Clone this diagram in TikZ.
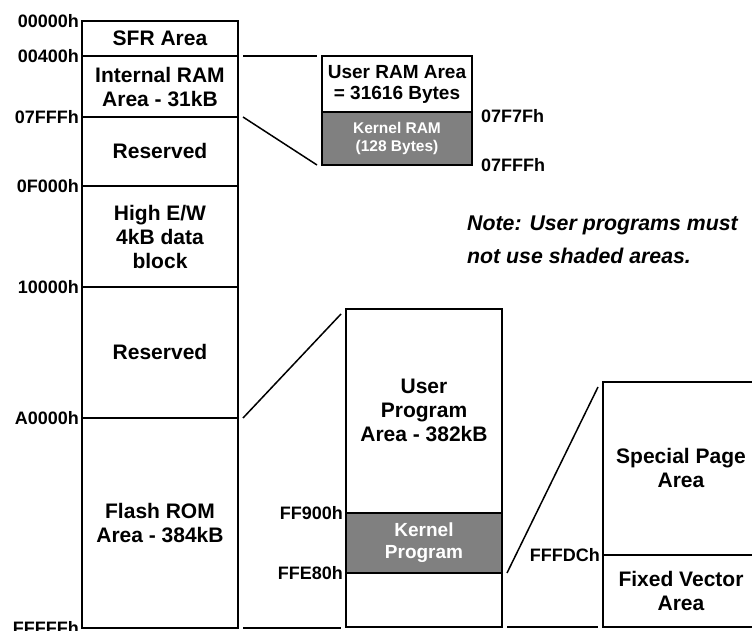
\documentclass[tikz,border=0pt]{standalone}
\usepackage{fontspec}
\setmainfont{Liberation Sans}
\usetikzlibrary{positioning}

\definecolor{shadegray}{RGB}{128,128,128}

\tikzset{
  addr/.style={font=\fontsize{18}{20}\selectfont\bfseries, inner sep=0pt},
  area/.style={font=\fontsize{21}{24}\selectfont\bfseries, align=center, inner sep=0pt},
  smallarea/.style={font=\fontsize{19}{21}\selectfont\bfseries, align=center, inner sep=0pt},
  kerneltext/.style={text=white, align=center, inner sep=0pt},
  frame/.style={line width=1.8pt},
  divider/.style={line width=1.5pt},
  link/.style={line width=1.5pt}
}

\begin{document}
\begin{tikzpicture}[x=1pt,y=-1pt]
 	\clip (0,0) rectangle (752,631);

	% main memory column
	\coordinate (mtl) at (82,21);
	\coordinate (mbr) at (238,628);
	\draw[divider] (82,56) -- (238,56);
	\draw[divider] (82,117) -- (238,117);
	\draw[divider] (82,186) -- (238,186);
	\draw[divider] (82,287) -- (238,287);
	\draw[divider] (82,418) -- (238,418);
	\draw[frame] (mtl) rectangle (mbr);

	\node[area] (sfr) at (160,38) {SFR Area};
	\node[area] (iram) at (160,87) {Internal RAM\\Area - 31kB};
	\node[area] (res1) at (160,151) {Reserved};
	\node[area] (hiew) at (160,237) {High E/W\\4kB data\\block};
	\node[area] (res2) at (160,352) {Reserved};
	\node[area] (flash) at (160,523) {Flash ROM\\Area - 384kB};

	\node[addr, anchor=east] (a00000) at (79,21) {00000h};
	\node[addr, anchor=east] (a00400) at (79,56) {00400h};
	\node[addr, anchor=east] (a07fff) at (79,117) {07FFFh};
	\node[addr, anchor=east] (a0f000) at (79,186) {0F000h};
	\node[addr, anchor=east] (a10000) at (79,287) {10000h};
	\node[addr, anchor=east] (aa0000) at (79,418) {A0000h};
	\node[addr, anchor=east] (afffff) at (79,628) {FFFFFh};

	% RAM detail
	\fill[shadegray] (322,112) rectangle (472,165);
	\draw[divider] (322,112) -- (472,112);
	\draw[frame] (322,56) rectangle (472,165);
	\node[smallarea] (uram) at (397,84) {User RAM Area\\= 31616 Bytes};
	\node[kerneltext, font=\fontsize{15.5}{18}\selectfont\bfseries] (kram) at (397,138) {Kernel RAM\\(128 Bytes)};
	\node[addr, anchor=west] (a07f7f) at (481,116) {07F7Fh};
	\node[addr, anchor=west] (a07fffb) at (481,165) {07FFFh};

	\coordinate (r1a) at (243,56);
	\coordinate (r1b) at (317,56);
	\coordinate (r2a) at (243,117);
	\coordinate (r2b) at (317,165);
	\draw[link] (r1a) -- (r1b);
	\draw[link] (r2a) -- (r2b);

	% note
	\node[font=\fontsize{21.3}{33}\selectfont\bfseries\itshape, align=left, anchor=north west, inner sep=0pt] (note) at (467,216) {Note: User programs must\\not use shaded areas.};

	% program detail
	\fill[shadegray] (346,513) rectangle (502,573);
	\draw[divider] (346,513) -- (502,513);
	\draw[divider] (346,573) -- (502,573);
	\draw[frame] (346,309) rectangle (502,627);
	\node[area] (uprog) at (424,410) {User\\Program\\Area - 382kB};
	\node[kerneltext, font=\fontsize{19}{22}\selectfont\bfseries] (kprog) at (424,543) {Kernel\\Program};
	\node[addr, anchor=east] (aff900) at (343,513) {FF900h};
	\node[addr, anchor=east] (affe80) at (343,573) {FFE80h};

	\coordinate (p1a) at (243,418);
	\coordinate (p1b) at (341,314);
	\coordinate (p2a) at (243,628);
	\coordinate (p2b) at (341,628);
	\draw[link] (p1a) -- (p1b);
	\draw[link] (p2a) -- (p2b);

	% special page detail
	\draw[divider] (603,555) -- (759,555);
	\draw[frame] (603,382) rectangle (759,627);
	\node[area] (spage) at (681,468) {Special Page\\Area};
	\node[area] (fvec) at (681,591) {Fixed Vector\\Area};
	\node[addr, anchor=east] (afffdc) at (600,555) {FFFDCh};

	\coordinate (s1a) at (507,573);
	\coordinate (s1b) at (598,387);
	\coordinate (s2a) at (507,627);
	\coordinate (s2b) at (598,627);
	\draw[link] (s1a) -- (s1b);
	\draw[link] (s2a) -- (s2b);
\end{tikzpicture}
\end{document}
